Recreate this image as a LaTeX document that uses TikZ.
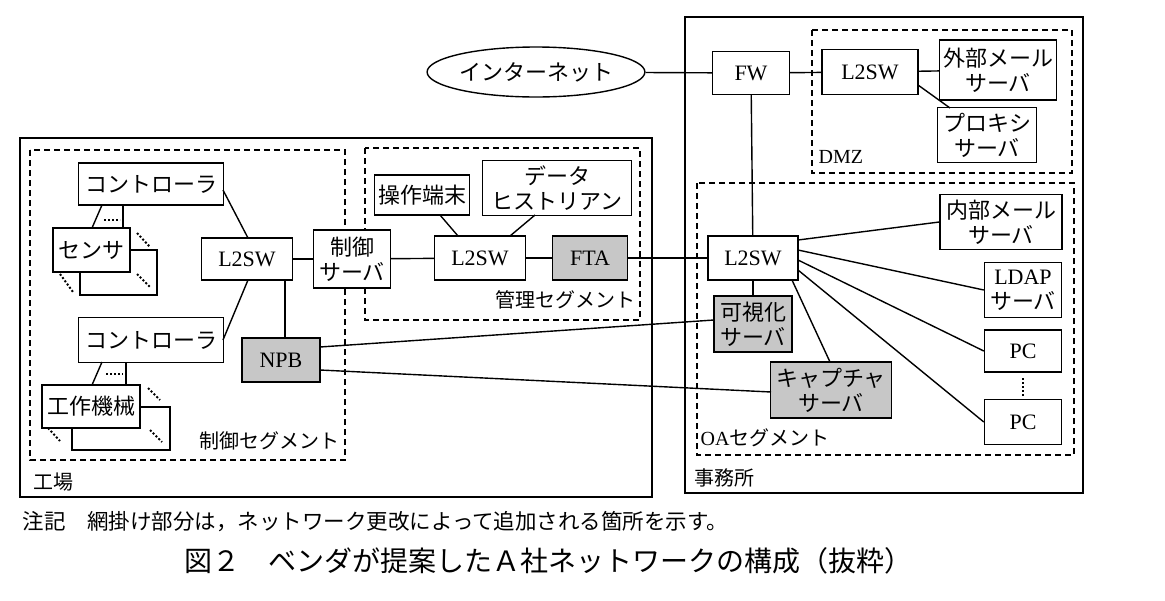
\documentclass[tikz,border=0pt]{standalone}
\usepackage{fontspec}
\setmainfont{Noto Sans CJK JP}
\newfontfamily\lat{Liberation Serif}
\usetikzlibrary{shapes.geometric}
\begin{document}
\begin{tikzpicture}[x=1pt,y=-1pt,line width=1.4pt,
 bx/.style={draw,fill=white,inner sep=0pt,font=\fontsize{22}{25}\selectfont,align=center},
 gr/.style={bx,fill=black!22},
 dseg/.style={dashed,dash pattern=on 6pt off 4pt,line width=1.4pt},
 lbl/.style={anchor=west,font=\fontsize{20}{23}\selectfont,inner sep=0pt},
 dt/.style={dotted,line width=2pt}]
\useasboundingbox (0,0) rectangle (1165,600);
% frames
\draw (20,138) rectangle (652,497);
\draw (685,17) rectangle (1083,493);
\draw[dseg] (812,30) rectangle (1072,173);
\draw[dseg] (697,183) rectangle (1074,455);
\draw[dseg] (30,150) rectangle (345,460);
\draw[dseg] (365,148) rectangle (640,320);
\node[lbl] at (33,482) {工場};
\node[lbl] at (694,478) {事務所};
\node[lbl] at (818,157) {\lat DMZ};
\node[lbl] at (700,438) {{\lat OA}セグメント};
\node[lbl,anchor=east] at (340,441) {制御セグメント};
\node[lbl,anchor=east] at (636,300) {管理セグメント};
% nodes
\node[ellipse,draw,minimum width=170pt,minimum height=50pt,inner sep=0pt,font=\fontsize{22}{25}\selectfont] (inet) at (536,72) {インターネット};
\node[bx,minimum width=77pt,minimum height=43pt] (fw) at (751,73) {\lat FW};
\node[bx,minimum width=96pt,minimum height=45pt] (dsw) at (870,72) {\lat L2SW};
\node[bx,minimum width=117pt,minimum height=60pt] (ext) at (998,70) {外部メール\\サーバ};
\node[bx,minimum width=99pt,minimum height=55pt] (prx) at (987,135) {プロキシ\\サーバ};
\node[bx,minimum width=90pt,minimum height=44pt] (osw) at (753,258) {\lat L2SW};
\node[bx,minimum width=122pt,minimum height=55pt] (int) at (1001,222) {内部メール\\サーバ};
\node[bx,minimum width=77pt,minimum height=55pt] (ldap) at (1023,290) {{\lat LDAP}\\サーバ};
\node[bx,minimum width=77pt,minimum height=42pt] (pc1) at (1023,351) {\lat PC};
\node[bx,minimum width=77pt,minimum height=45pt] (pc2) at (1023,422) {\lat PC};
\node[gr,minimum width=78pt,minimum height=56pt] (vis) at (753,324) {可視化\\サーバ};
\node[gr,minimum width=121pt,minimum height=56pt] (cap) at (831,390) {キャプチャ\\サーバ};
\node[gr,minimum width=75pt,minimum height=44pt] (fta) at (590,258) {\lat FTA};
\node[bx,minimum width=91pt,minimum height=44pt] (msw) at (480,258) {\lat L2SW};
\node[bx,minimum width=95pt,minimum height=40pt] (ope) at (422,195) {操作端末};
\node[bx,minimum width=149pt,minimum height=55pt] (his) at (557,188) {データ\\ヒストリアン};
\node[bx,minimum width=77pt,minimum height=58pt] (csv) at (352,259) {制御\\サーバ};
\node[bx,minimum width=91pt,minimum height=42pt] (csw) at (247,259) {\lat L2SW};
\node[gr,minimum width=78pt,minimum height=44pt] (npb) at (281,360) {\lat NPB};
\node[bx,minimum width=145pt,minimum height=42pt] (ct1) at (151,184) {コントローラ};
\node[bx,minimum width=145pt,minimum height=45pt] (ct2) at (151,340) {コントローラ};
% sensor stack
\draw[fill=white] (80,250) rectangle (157,295);
\node[bx,minimum width=77pt,minimum height=44pt] (sen) at (91.5,250) {センサ};
\draw (102,205) -- (92,228); \draw (123,205) -- (123,228);
\draw[dt] (104,220) -- (120,220);
\draw[dt] (137,233) -- (150,247); \draw[dt] (60,274) -- (73,292); \draw[dt] (137,274) -- (150,287);
% machine stack
\draw[fill=white] (72,407) rectangle (170,450);
\node[bx,minimum width=98pt,minimum height=43pt] (mac) at (91,406.5) {工作機械};
\draw (102,362) -- (92,385); \draw (126,362) -- (126,385);
\draw[dt] (106,374) -- (123,374);
\draw[dt] (148,388) -- (160,400); \draw[dt] (48,428) -- (60,441); \draw[dt] (150,430) -- (162,442);
% connectors
\draw (inet) -- (fw); \draw (fw) -- (dsw); \draw (dsw) -- (ext);
\draw (918,85) -- (950,108);
\draw (fw) -- (osw);
\draw (798,240) -- (int.west);
\draw (798,250) -- (ldap.west);
\draw (798,260) -- (pc1.west);
\draw (798,270) -- (pc2.west);
\draw (osw) -- (vis);
\draw (792,280) -- (830,362);
\draw (fta) -- (osw); \draw (msw) -- (fta);
\draw (458,236) -- (440,215);
\draw (510,236) -- (535,215);
\draw (csv) -- (msw); \draw (csw) -- (csv);
\draw (223,190) -- (248,238); \draw (223,340) -- (248,280);
\draw (285,280) -- (285,338);
\draw (320,347) -- (714,320);
\draw (320,370) -- (771,392);
\draw[dt] (1023,378) -- (1023,396);
% notes
\node[lbl,font=\fontsize{21.5}{24}\selectfont] at (22,522) {注記　網掛け部分は，ネットワーク更改によって追加される箇所を示す。};
\node[font=\fontsize{28}{30}\selectfont,inner sep=0pt] at (548,561) {図２　ベンダが提案したＡ社ネットワークの構成（抜粋）};
\end{tikzpicture}
\end{document}
